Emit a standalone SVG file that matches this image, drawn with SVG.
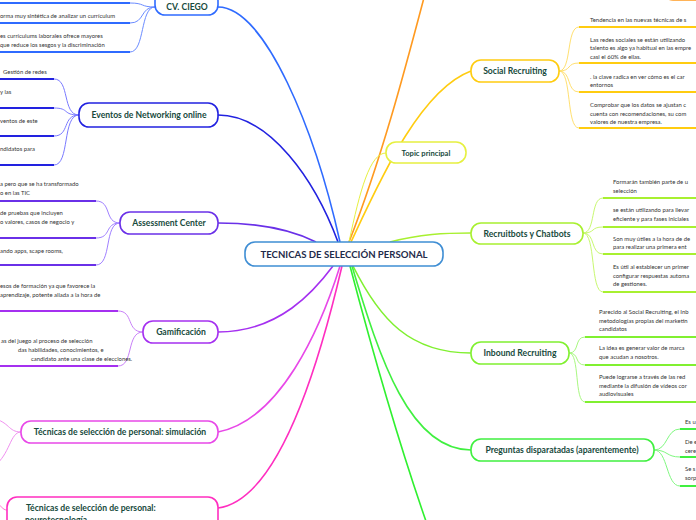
<svg xmlns="http://www.w3.org/2000/svg" width="696" height="520" viewBox="0 0 696 520">
<style>
.nt{font-family:Lato,"Liberation Sans",sans-serif;font-weight:bold;font-size:8.6px;fill:#174a3c;text-anchor:middle}
.ct{font-family:Lato,"Liberation Sans",sans-serif;font-weight:bold;font-size:9.6px;fill:#1f2b4a;text-anchor:middle}
.lt{font-family:Lato,"Liberation Sans",sans-serif;font-size:5.9px;fill:#333}
.box{fill:#fff;stroke-width:1.6}
.c{fill:none;stroke-width:1.6}
.l{fill:none;stroke-width:1}
.u{fill:none;stroke-width:2}
</style>
<rect width="696" height="520" fill="#fff"/>
<g id="connectors">
<path class="c" stroke="#2f6bff" d="M218,7 C265,7 315,130 340,242"/>
<path class="c" stroke="#2222e0" d="M218,115 C270,115 315,180 338,242"/>
<path class="c" stroke="#6a30e8" d="M218,223 C260,223 292,230 316,242"/>
<path class="c" stroke="#a530f0" d="M218,332 C280,332 315,290 333,266"/>
<path class="c" stroke="#e848e8" d="M218,432 C280,420 320,330 340,266"/>
<path class="c" stroke="#ff2ec0" d="M218,508 C280,500 320,360 342,266"/>
<path class="c" stroke="#ff9a20" d="M349,242 C385,150 410,50 430,-25"/>
<path class="c" stroke="#ffcc10" d="M351,242 C380,180 420,90 471,71"/>
<path class="l" stroke="#e6f040" d="M349,242 C360,190 370,153 386,153"/>
<path class="c" stroke="#a8f030" d="M390,242 C420,234 445,233 471,233"/>
<path class="c" stroke="#80f030" d="M353,266 C380,320 410,353 471,353"/>
<path class="c" stroke="#40f040" d="M352,266 C380,360 410,450 471,450"/>
<path class="c" stroke="#30f030" d="M350,266 C380,380 410,480 440,560"/>
<!-- leaf connectors left -->
<g stroke="#6b8cff" class="l">
<path d="M155,7 C140,7 145,3 130,3"/><path d="M155,7 C140,7 145,23 130,23"/><path d="M155,7 C140,7 145,52 130,52"/>
</g>
<g stroke="#7a7aff" class="l">
<path d="M79,115 C62,115 70,79 54,79"/><path d="M79,115 C62,115 70,108 54,108"/><path d="M79,115 C62,115 70,136 54,136"/><path d="M79,115 C62,115 70,165 54,165"/>
</g>
<g stroke="#a080ff" class="l">
<path d="M120,223 C104,223 112,201 96,201"/><path d="M120,223 C104,223 112,238 96,238"/><path d="M120,223 C104,223 112,265 96,265"/>
</g>
<g stroke="#c880f8" class="l">
<path d="M143,332 C126,332 134,311 118,311"/><path d="M143,332 C126,332 134,366 118,366"/>
</g>
<g stroke="#f090f0" class="l">
<path d="M21,432 C8,432 10,422 -8,418"/><path d="M21,432 C10,432 10,455 -6,466"/>
</g>
<g stroke="#ff70d0" class="l">
<path d="M7,510 C2,510 2,505 -5,503"/>
</g>
<!-- leaf connectors right -->
<g stroke="#ffe070" class="l">
<path d="M559,71 C572,71 566,27 579,27"/><path d="M559,71 C572,71 566,63 579,63"/><path d="M559,71 C572,71 566,92 579,92"/><path d="M559,71 C572,71 566,128 579,128"/>
</g>
<g stroke="#c8f870" class="l">
<path d="M583,233 C596,233 590,198 603,198"/><path d="M583,233 C596,233 590,227 603,227"/><path d="M583,233 C596,233 590,254 603,254"/><path d="M583,233 C596,233 590,292 603,292"/>
</g>
<g stroke="#a8f880" class="l">
<path d="M569,353 C580,353 574,337 585,337"/><path d="M569,353 C580,353 574,365 585,365"/><path d="M569,353 C580,353 574,402 585,402"/>
</g>
<g stroke="#80f880" class="l">
<path d="M654,450 C668,450 666,429 680,429"/><path d="M654,450 C668,450 666,457 680,457"/><path d="M654,450 C668,450 666,486 680,486"/>
</g>
</g>

<g id="center">
<rect class="box" x="245" y="242" width="198" height="24" rx="10" stroke="#3f8ed4"/>
<text class="ct" x="344" y="258">TECNICAS DE SELECCIÓN PERSONAL</text>
</g>

<g id="cv-ciego">
<rect class="box" x="155" y="-9" width="63" height="24" rx="10" stroke="#2f6bff"/>
<text class="nt" x="187" y="10">CV. CIEGO</text>
<g stroke="#2f6bff" class="u"><path d="M0,3 H130"/><path d="M0,23 H130"/><path d="M0,52 H130"/></g>
<text class="lt" x="0" y="18">orma muy sintética de analizar un currículum</text>
<text class="lt" x="0" y="38">es currículums  laborales ofrece mayores</text>
<text class="lt" x="0" y="47">que reduce los sesgos y la discriminación</text>
</g>

<g id="eventos">
<rect class="box" x="79" y="103" width="139" height="24" rx="10" stroke="#2222e0"/>
<text class="nt" x="149" y="118">Eventos de Networking online</text>
<g stroke="#2222e0" class="u"><path d="M0,79 H54"/><path d="M0,108 H54"/><path d="M0,136 H54"/><path d="M0,165 H54"/></g>
<text class="lt" x="3" y="74">Gestión de redes</text>
<text class="lt" x="0" y="94">y las</text>
<text class="lt" x="0" y="123">ventos de este</text>
<text class="lt" x="0" y="151">ndidatos para</text>
</g>

<g id="assessment">
<rect class="box" x="120" y="212" width="98" height="22" rx="10" stroke="#6a30e8"/>
<text class="nt" x="169" y="226">Assessment Center</text>
<g stroke="#6a30e8" class="u"><path d="M0,201 H96"/><path d="M0,238 H96"/><path d="M0,265 H96"/></g>
<text class="lt" x="0" y="186">a pero que se ha transformado</text>
<text class="lt" x="0" y="195">o en las TIC</text>
<text class="lt" x="0" y="215">de pruebas que incluyen</text>
<text class="lt" x="0" y="224">o valores, casos de negocio y</text>
<text class="lt" x="0" y="253">ando apps, scape rooms,</text>
</g>

<g id="gamificacion">
<rect class="box" x="143" y="321" width="75" height="22" rx="10" stroke="#a530f0"/>
<text class="nt" x="181" y="335">Gamificación</text>
<g stroke="#a530f0" class="u"><path d="M0,311 H118"/><path d="M0,366 H118"/></g>
<text class="lt" x="0" y="288">esos de formación ya que favorece la</text>
<text class="lt" x="0" y="297">aprendizaje, potente aliada a la hora de</text>
<text class="lt" x="1" y="343">as del juego al proceso de selección</text>
<text class="lt" x="18" y="352">das habilidades, conocimientos, e</text>
<text class="lt" x="31" y="361">candidato ante una clase de elecciones.</text>
</g>

<g id="simulacion">
<rect class="box" x="21" y="421" width="197" height="22" rx="10" stroke="#e848e8"/>
<text class="nt" x="120" y="435">Técnicas de selección de personal: simulación</text>
</g>

<g id="neurotecnologia">
<rect class="box" x="7" y="497" width="211" height="40" rx="10" stroke="#ff2ec0"/>
<text class="nt" x="26" y="511" style="text-anchor:start">Técnicas de selección de personal:</text>
<text class="nt" x="25" y="523" style="text-anchor:start">neurotecnología</text>
</g>

<g id="orange-node">
<rect class="box" x="663" y="-23" width="60" height="23" rx="10" stroke="#ff9a20"/>
</g>

<g id="social">
<rect class="box" x="471" y="60" width="88" height="22" rx="10" stroke="#ffcc10"/>
<text class="nt" x="515" y="74">Social Recruiting</text>
<g stroke="#ffcc10" class="u"><path d="M579,27 H696"/><path d="M579,63 H696"/><path d="M579,92 H696"/><path d="M579,128 H696"/></g>
<text class="lt" x="590" y="22">Tendencia en las nuevas técnicas de s</text>
<text class="lt" x="590" y="42">Las redes sociales se están utilizando</text>
<text class="lt" x="590" y="50">talento es algo ya habitual en las empre</text>
<text class="lt" x="590" y="59">casi el 60% de ellas.</text>
<text class="lt" x="590" y="79">. la clave  radica en ver cómo es el car</text>
<text class="lt" x="590" y="87">entornos</text>
<text class="lt" x="590" y="107">Comprobar que los datos se ajustan c</text>
<text class="lt" x="590" y="116">cuenta con recomendaciones, su com</text>
<text class="lt" x="590" y="124">valores de nuestra empresa.</text>
</g>

<g id="topic-principal">
<rect class="box" x="386" y="142" width="80" height="21" rx="10" stroke="#e6f040"/>
<text class="nt" x="426" y="156" style="font-size:7.6px">Topic principal</text>
</g>

<g id="recruitbots">
<rect class="box" x="471" y="223" width="112" height="21" rx="10" stroke="#a8f030"/>
<text class="nt" x="527" y="237">Recruitbots y Chatbots</text>
<g stroke="#a8f030" class="u"><path d="M603,198 H696"/><path d="M603,227 H696"/><path d="M603,254 H696"/><path d="M603,292 H696"/></g>
<text class="lt" x="613" y="184">Formarán también parte de u</text>
<text class="lt" x="613" y="193">selección</text>
<text class="lt" x="613" y="212">se están utilizando para llevar</text>
<text class="lt" x="613" y="221">eficiente y para fases iniciales</text>
<text class="lt" x="613" y="241">Son muy útiles a la hora de de</text>
<text class="lt" x="613" y="249">para realizar una primera ent</text>
<text class="lt" x="613" y="269">Es útil al establecer un primer</text>
<text class="lt" x="613" y="278">configurar respuestas automa</text>
<text class="lt" x="613" y="286">de gestiones.</text>
</g>

<g id="inbound">
<rect class="box" x="471" y="342" width="98" height="22" rx="10" stroke="#80f030"/>
<text class="nt" x="520" y="356">Inbound Recruiting</text>
<g stroke="#80f030" class="u"><path d="M585,337 H696"/><path d="M585,365 H696"/><path d="M585,402 H696"/></g>
<text class="lt" x="599" y="314">Parecido al Social Recruiting, el Inb</text>
<text class="lt" x="599" y="323">metodologías propias del marketin</text>
<text class="lt" x="599" y="331">candidatos</text>
<text class="lt" x="599" y="350">La idea es generar valor de marca</text>
<text class="lt" x="599" y="359">que acudan a nosotros.</text>
<text class="lt" x="599" y="379">Puede lograrse a través de las red</text>
<text class="lt" x="599" y="388">mediante la difusión de vídeos cor</text>
<text class="lt" x="599" y="396">audiovisuales</text>
</g>

<g id="preguntas">
<rect class="box" x="471" y="439" width="183" height="22" rx="10" stroke="#40f040"/>
<text class="nt" x="562" y="453">Preguntas disparatadas (aparentemente)</text>
<g stroke="#40f040" class="u"><path d="M680,429 H696"/><path d="M680,457 H696"/><path d="M680,486 H696"/></g>
<text class="lt" x="685" y="424">Es u</text>
<text class="lt" x="685" y="444">De e</text>
<text class="lt" x="685" y="453">cere</text>
<text class="lt" x="685" y="471">Se  s</text>
<text class="lt" x="685" y="480">sorp</text>
</g>
</svg>
